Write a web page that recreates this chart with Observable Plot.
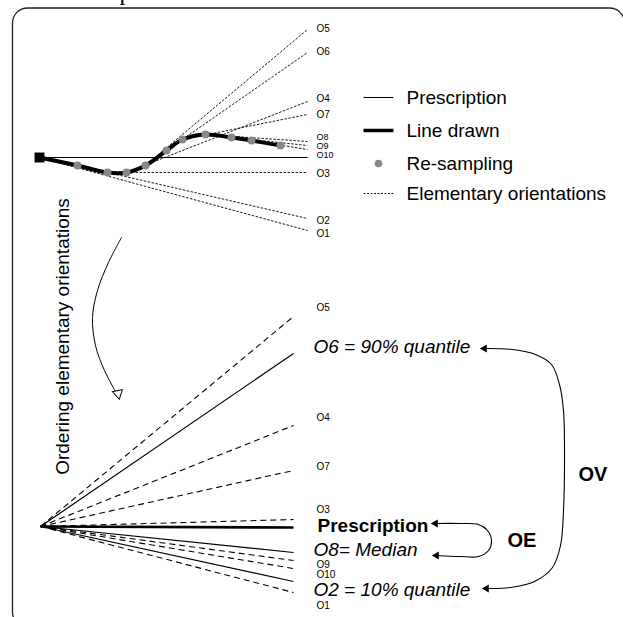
<!DOCTYPE html>
<html><head><meta charset="utf-8">
<script src="https://cdn.jsdelivr.net/npm/d3@7"></script>
<script src="https://cdn.jsdelivr.net/npm/@observablehq/plot@0.6"></script>
<style>html,body{margin:0;padding:0;background:#fff;overflow:hidden}</style>
</head><body><div id="chart"></div>
<script>
// ---- data (sketch units, y grows downward) ----
const orientations = ["O1","O2","O3","O4","O5","O6","O7","O8","O9","O10"];
// start point (square) + re-sampling points of the drawn line
const sampleX = [39, 77, 107, 126, 145, 166, 182, 205, 231, 251, 280];
const sampleY = [157, 165, 172, 172, 165, 150, 139, 134, 137, 140, 145];
// elementary orientations extended to the right (upper sketch)
const sketchEndY   = [230, 218, 172, 101, 29, 52, 114, 141, 145, 149];
const sketchLabelY = [233, 220, 173, 98, 28, 51, 114, 137, 146, 155];
// ordered fan of orientations (lower sketch)
const fanEndY   = [592, 581, 519, 425, 316, 353, 470, 552, 560, 568];
const fanLabelY = [605, 589, 509, 417, 307, 346, 466, 549, 564, 574];
const quantileLabels = {O6: "O6 = 90% quantile", O8: "O8= Median", O2: "O2 = 10% quantile"};
const prescriptionY = 157, prescriptionFanY = 527, prescriptionLabelY = 525;
// legend
const legendLabels = ["Prescription", "Line drawn", "Re-sampling", "Elementary orientations"];
const legendY = [97, 130, 163, 193];
// annotation curves
const orderArrowX = [121, 108, 97, 92, 95, 104, 115];
const orderArrowY = [237, 262, 290, 317, 345, 370, 391];
const ovX = [484, 512, 535, 551, 559, 563, 564, 563, 560, 552, 534, 510, 486];
const ovY = [348, 349, 354, 364, 384, 410, 450, 510, 545, 567, 581, 587, 588];
const oeX = [435, 460, 478, 487, 491, 488, 478, 460, 436];
const oeY = [523, 523, 524, 530, 540, 550, 556, 556, 555];
const groupLabels = [{t: "OE", x: 507, y: 540}, {t: "OV", x: 578, y: 474}];

// ---- derived tables ----
const W = 623, H = 617;
const sketchX2 = 307, fanX0 = 40, fanY0 = 526, fanX2 = 293, labelX = 316;
const sketch = orientations.map((o, i) => ({o, x1: sampleX[i], y1: sampleY[i], x2: sketchX2, y2: sketchEndY[i], ly: sketchLabelY[i]}));
const crowded = new Set(["O8", "O9", "O10"]);
const fan = orientations.map((o, i) => ({o, x1: fanX0, y1: fanY0, x2: fanX2, y2: fanEndY[i], ly: fanLabelY[i], q: quantileLabels[o]}));
const fanDashed = fan.filter(d => !d.q), fanSolid = fan.filter(d => d.q);
const drawn = sampleX.map((x, i) => ({x, y: sampleY[i]}));
const legend = legendLabels.map((t, i) => ({t, y: legendY[i], x1: 363, x2: 393}));
const font = "Liberation Sans, Arial, Helvetica, sans-serif";
const pts = (X, Y) => X.map((x, i) => ({x, y: Y[i]}));

const chart = Plot.plot({
  width: W, height: H, margin: 0,
  x: {domain: [0, W], range: [0, W], axis: null},
  y: {domain: [0, H], range: [0, H], axis: null},
  style: {background: "white", overflow: "visible"},
  marks: [
    // cut-off title glyph
    Plot.text(["p"], {x: 119, y: -0.5, text: d => d, textAnchor: "start", lineAnchor: "bottom", fontSize: 24, fontFamily: "Liberation Serif, Times New Roman, serif", fill: "black"}),
    // rounded frame
    Plot.rect([0], {x1: 12.5, x2: 624.5, y1: 8, y2: 627, rx: 15, ry: 15, fill: "none", stroke: "#222", strokeWidth: 1.3}),
    // upper sketch
    Plot.link([0], {x1: sampleX[0], x2: sketchX2, y1: prescriptionY, y2: prescriptionY, stroke: "black", strokeWidth: 1}),
    Plot.link(sketch, {x1: "x1", y1: "y1", x2: "x2", y2: "y2", stroke: "black", strokeWidth: 0.9, strokeDasharray: "2.5,1.5"}),
    Plot.line(drawn, {x: "x", y: "y", curve: "catmull-rom", stroke: "black", strokeWidth: 4}),
    Plot.dot(drawn.slice(1), {x: "x", y: "y", r: 4, fill: "#888", stroke: "none"}),
    Plot.dot(drawn.slice(0, 1), {x: "x", y: "y", symbol: "square", r: 5.6, fill: "black"}),
    Plot.text(sketch.filter(d => !crowded.has(d.o)), {x: labelX, y: "ly", text: "o", textAnchor: "start", lineAnchor: "middle", fontSize: 10, fontFamily: font, fill: "black"}),
    Plot.text(sketch.filter(d => crowded.has(d.o)), {x: labelX, y: "ly", text: "o", textAnchor: "start", lineAnchor: "middle", fontSize: 9, fontFamily: font, fill: "black"}),
    // legend
    Plot.link(legend.slice(0, 1), {x1: "x1", x2: "x2", y1: "y", y2: "y", stroke: "black", strokeWidth: 1}),
    Plot.link(legend.slice(1, 2), {x1: "x1", x2: "x2", y1: "y", y2: "y", stroke: "black", strokeWidth: 3.5}),
    Plot.dot(legend.slice(2, 3), {x: d => (d.x1 + d.x2) / 2, y: "y", r: 3.8, fill: "#888"}),
    Plot.link(legend.slice(3, 4), {x1: "x1", x2: "x2", y1: "y", y2: "y", stroke: "black", strokeWidth: 0.9, strokeDasharray: "2,1.5"}),
    Plot.text(legend, {x: 406, y: "y", text: "t", textAnchor: "start", lineAnchor: "middle", fontSize: 19, fontFamily: font, fill: "black"}),
    // ordering arrow + rotated caption
    Plot.line(pts(orderArrowX, orderArrowY), {x: "x", y: "y", curve: "catmull-rom", stroke: "black", strokeWidth: 1}),
    Plot.dot([0], {x: 117.5, y: 393, symbol: "triangle", r: 3.8, rotate: 168, fill: "white", stroke: "black", strokeWidth: 1}),
    Plot.text(["Ordering elementary orientations"], {x: 62, y: 336, text: d => d, rotate: -90, fontSize: 19, fontFamily: font, fill: "black"}),
    // lower fan
    Plot.link(fanDashed, {x1: "x1", y1: "y1", x2: "x2", y2: "y2", stroke: "black", strokeWidth: 1.1, strokeDasharray: "6,4"}),
    Plot.link(fanSolid, {x1: "x1", y1: "y1", x2: "x2", y2: "y2", stroke: "black", strokeWidth: 1.2}),
    Plot.link([0], {x1: fanX0, y1: fanY0, x2: fanX2, y2: prescriptionFanY, stroke: "black", strokeWidth: 2.6}),
    Plot.text(fanDashed, {x: labelX, y: "ly", text: "o", textAnchor: "start", lineAnchor: "middle", fontSize: 10, fontFamily: font, fill: "black"}),
    Plot.text(fanSolid, {x: 313, y: "ly", text: "q", textAnchor: "start", lineAnchor: "middle", fontSize: 19, fontStyle: "italic", fontFamily: font, fill: "black"}),
    Plot.text(["Prescription"], {x: 317, y: prescriptionLabelY, text: d => d, textAnchor: "start", lineAnchor: "middle", fontSize: 19, fontWeight: "bold", fontFamily: font, fill: "black"}),
    // OV / OE brackets
    Plot.line(pts(ovX, ovY), {x: "x", y: "y", curve: "catmull-rom", stroke: "black", strokeWidth: 1.1}),
    Plot.line(pts(oeX, oeY), {x: "x", y: "y", curve: "catmull-rom", stroke: "black", strokeWidth: 1.1}),
    Plot.dot([{x: ovX[0], y: ovY[0]}, {x: ovX[ovX.length - 1], y: ovY[ovY.length - 1]}, {x: oeX[0], y: oeY[0]}, {x: oeX[oeX.length - 1], y: oeY[oeY.length - 1]}],
      {x: "x", y: "y", symbol: "triangle", r: 3, rotate: -90, fill: "black", stroke: "none"}),
    Plot.text(groupLabels, {x: "x", y: "y", text: "t", textAnchor: "start", lineAnchor: "middle", fontSize: 20, fontWeight: "bold", fontFamily: font, fill: "black"})
  ]
});
document.getElementById("chart").appendChild(chart);
</script>
</body></html>
